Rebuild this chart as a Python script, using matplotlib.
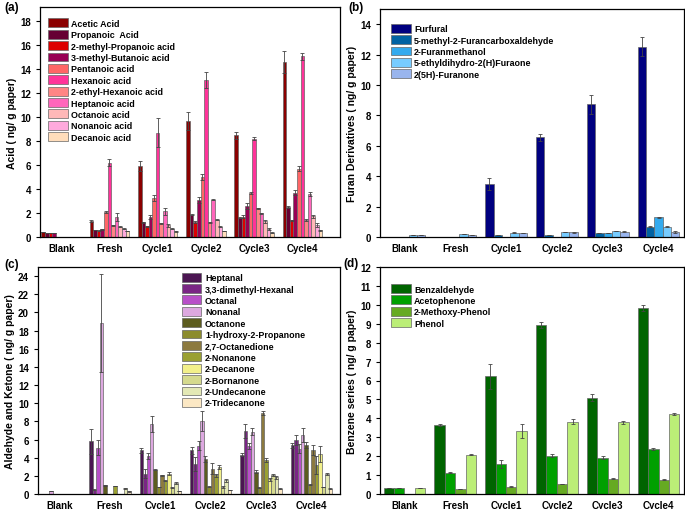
import numpy as np
import matplotlib
matplotlib.use('Agg')
import matplotlib.pyplot as plt

plt.rcParams['font.family'] = ['Liberation Sans', 'DejaVu Sans']
plt.rcParams['font.weight'] = 'bold'

groups = ["Blank", "Fresh", "Cycle1", "Cycle2", "Cycle3", "Cycle4"]

# (a) acids
acid_names = ["Acetic Acid", "Propanoic  Acid", "2-methyl-Propanoic acid",
              "3-methyl-Butanoic acid", "Pentanoic acid", "Hexanoic acid",
              "2-ethyl-Hexanoic acid", "Heptanoic acid", "Octanoic acid",
              "Nonanoic acid", "Decanoic acid"]
acid_vals = [
    [0.42, 1.33, 5.90, 9.70, 8.50, 14.60],
    [0.37, 0.58, 1.22, 1.86, 1.60, 2.50],
    [0.32, 0.53, 0.90, 1.25, 1.70, 1.38],
    [0.30, 0.64, 1.67, 3.10, 2.55, 3.70],
    [0.00, 2.08, 3.25, 5.00, 3.70, 5.70],
    [0.00, 6.20, 8.70, 13.10, 8.20, 15.10],
    [0.00, 0.97, 1.14, 1.22, 2.40, 1.42],
    [0.00, 1.67, 2.15, 3.10, 1.97, 3.58],
    [0.00, 0.86, 0.97, 1.45, 1.30, 1.72],
    [0.00, 0.70, 0.70, 0.87, 0.67, 1.00],
    [0.00, 0.50, 0.47, 0.50, 0.36, 0.55],
]
acid_err = [
    [0, 0.05, 0.42, 0.75, 0.30, 0.95],
    [0, 0.02, 0.05, 0.05, 0.05, 0.05],
    [0, 0.02, 0.05, 0.05, 0.10, 0.05],
    [0, 0.03, 0.15, 0.25, 0.25, 0.20],
    [0, 0.05, 0.25, 0.25, 0.08, 0.20],
    [0, 0.30, 1.20, 0.70, 0.12, 0.30],
    [0, 0.05, 0.05, 0.05, 0.05, 0.05],
    [0, 0.30, 0.30, 0.05, 0.05, 0.15],
    [0, 0.05, 0.15, 0.05, 0.10, 0.15],
    [0, 0.05, 0.05, 0.05, 0.05, 0.20],
    [0, 0.02, 0.02, 0.02, 0.05, 0.03],
]
acid_colors = ["#8B0000", "#660033", "#DD0000", "#990055", "#FF6666", "#FF3399",
               "#FF8585", "#FF66BB", "#FFB8B8", "#FFAADD", "#FFDDBB"]

# (b) furan derivatives
furan_names = ["Furfural", "5-methyl-2-Furancarboxaldehyde", "2-Furanmethanol",
               "5-ethyldihydro-2(H)Furaone", "2(5H)-Furanone"]
furan_vals = [
    [0.00, 0.00, 3.47, 6.55, 8.72, 12.53],
    [0.00, 0.00, 0.13, 0.15, 0.26, 0.69],
    [0.00, 0.00, 0.00, 0.00, 0.26, 1.30],
    [0.12, 0.20, 0.28, 0.34, 0.40, 0.69],
    [0.12, 0.14, 0.26, 0.30, 0.35, 0.33],
]
furan_err = [
    [0, 0, 0.38, 0.25, 0.60, 0.60],
    [0, 0, 0.01, 0.01, 0.02, 0.03],
    [0, 0, 0.00, 0.00, 0.02, 0.04],
    [0, 0.01, 0.02, 0.02, 0.02, 0.02],
    [0, 0.01, 0.02, 0.03, 0.05, 0.05],
]
furan_colors = ["#000080", "#0062A3", "#33AAEE", "#77CCFF", "#99B5EE"]

# (c) aldehyde and ketone
ak_names = ["Heptanal", "3,3-dimethyl-Hexanal", "Octanal", "Nonanal", "Octanone",
            "1-hydroxy-2-Propanone", "2,7-Octanedione", "2-Nonanone", "2-Decanone",
            "2-Bornanone", "2-Undecanone", "2-Tridecanone"]
ak_vals = [
    [0.00, 5.80, 4.80, 4.80, 4.35, 5.35],
    [0.00, 0.45, 2.25, 3.30, 6.95, 5.90],
    [0.00, 5.10, 4.20, 5.30, 5.30, 5.00],
    [0.35, 18.80, 7.70, 8.00, 6.85, 6.50],
    [0.00, 0.95, 2.65, 3.85, 2.45, 5.40],
    [0.00, 0.00, 0.75, 0.80, 0.70, 1.00],
    [0.00, 0.00, 2.05, 2.80, 8.90, 4.80],
    [0.00, 0.90, 1.45, 2.05, 3.75, 3.20],
    [0.00, 0.00, 2.25, 2.95, 1.60, 4.40],
    [0.00, 0.00, 0.70, 0.75, 2.10, 0.77],
    [0.00, 0.62, 1.25, 1.50, 1.85, 2.20],
    [0.00, 0.30, 0.35, 0.45, 0.60, 0.60],
]
ak_err = [
    [0, 1.40, 0.30, 0.35, 0.20, 0.25],
    [0, 0.05, 0.50, 0.80, 0.75, 0.55],
    [0, 0.80, 0.30, 0.50, 0.30, 0.50],
    [0, 5.40, 0.85, 1.10, 0.40, 0.75],
    [0, 0.05, 0.05, 0.30, 0.15, 0.30],
    [0, 0, 0.03, 0.03, 0.03, 0.05],
    [0, 0, 0.05, 0.60, 0.25, 0.55],
    [0, 0.03, 0.05, 0.15, 0.25, 0.95],
    [0, 0, 0.20, 0.25, 0.20, 0.90],
    [0, 0, 0.05, 0.10, 0.10, 0.05],
    [0, 0.05, 0.10, 0.15, 0.15, 0.15],
    [0, 0.03, 0.03, 0.03, 0.03, 0.05],
]
ak_colors = ["#4B1552", "#7A2585", "#B84FC8", "#DDA8E0", "#5C5C1F", "#8C8C2E",
             "#8C7A3F", "#9AA032", "#F2F08A", "#D5DA8E", "#E3E8B5", "#FCE8C4"]

# (d) benzene series
bz_names = ["Benzaldehyde", "Acetophenone", "2-Methoxy-Phenol", "Phenol"]
bz_vals = [
    [0.30, 3.65, 6.22, 8.95, 5.10, 9.82],
    [0.30, 1.13, 1.58, 2.03, 1.92, 2.38],
    [0.00, 0.28, 0.38, 0.52, 0.80, 0.75],
    [0.32, 2.08, 3.32, 3.82, 3.78, 4.23],
]
bz_err = [
    [0, 0.05, 0.65, 0.15, 0.17, 0.17],
    [0, 0.02, 0.22, 0.07, 0.08, 0.04],
    [0, 0.01, 0.02, 0.01, 0.03, 0.02],
    [0, 0.04, 0.38, 0.13, 0.10, 0.03],
]
bz_colors = ["#006400", "#00A000", "#66AA22", "#BBEE77"]


def grouped(ax, names, vals, errs, colors, gw=0.82):
    x = np.arange(len(groups))
    n = len(names)
    w = gw / n
    for i in range(n):
        pos = x - gw / 2 + w * (i + 0.5)
        ax.bar(pos, vals[i], w, color=colors[i], edgecolor="#666666",
               linewidth=0.5, label=names[i])
        ax.errorbar(pos, vals[i], yerr=errs[i], fmt="none", ecolor="#444444",
                    elinewidth=0.6, capsize=1.3, capthick=0.6)
    ax.set_xticks(x)
    ax.set_xticklabels(groups, fontsize=7, fontweight="bold")
    ax.tick_params(axis="x", length=0, pad=4)
    ax.tick_params(axis="y", labelsize=7, length=3, width=0.8)
    for s in ax.spines.values():
        s.set_linewidth(0.9)


def add_legend(ax, anchor):
    ax.legend(loc="upper left", bbox_to_anchor=anchor, frameon=False,
              fontsize=6.4, handlelength=2.2, handleheight=1.15,
              labelspacing=0.22, handletextpad=0.4, borderaxespad=0.5)


fig = plt.figure(figsize=(6.85, 5.1), dpi=100)
W, H = 685.0, 510.0


def make_ax(l, t, r, b):
    return fig.add_axes([l / W, 1 - b / H, (r - l) / W, (b - t) / H])


axa = make_ax(40, 8, 340, 238)
axb = make_ax(380, 10, 684, 238)
axc = make_ax(38, 268, 340, 495)
axd = make_ax(380, 268, 684, 495)

grouped(axa, acid_names, acid_vals, acid_err, acid_colors)
axa.set_xlim(-0.44, 5.78)
axa.set_ylim(0, 19.2)
axa.set_yticks(np.arange(0, 19, 2))
axa.set_ylabel("Acid ( ng/ g paper)", fontsize=7.5, fontweight="bold", labelpad=2)
add_legend(axa, (0.0, 0.985))

grouped(axb, furan_names, furan_vals, furan_err, furan_colors)
axb.set_xlim(-0.48, 5.5)
axb.set_ylim(0, 15)
axb.set_yticks(np.arange(0, 15, 2))
axb.set_ylabel("Furan Derivatives ( ng/ g paper)", fontsize=7.5,
               fontweight="bold", labelpad=2)
add_legend(axb, (0.01, 0.97))

grouped(axc, ak_names, ak_vals, ak_err, ak_colors)
axc.set_xlim(-0.43, 5.57)
axc.set_ylim(0, 25)
axc.set_yticks(np.arange(0, 25, 2))
axc.set_ylabel("Aldehyde and Ketone ( ng/ g paper)", fontsize=7.5,
               fontweight="bold", labelpad=2)
add_legend(axc, (0.45, 1.01))

grouped(axd, bz_names, bz_vals, bz_err, bz_colors)
axd.set_xlim(-0.48, 5.5)
axd.set_ylim(0, 12)
axd.set_yticks(np.arange(0, 13, 1))
axd.set_ylabel("Benzene series ( ng/ g paper)", fontsize=7.5,
               fontweight="bold", labelpad=2)
add_legend(axd, (0.01, 0.96))

for lab, px, py in [("(a)", 4, 2), ("(b)", 348, 2), ("(c)", 4, 259), ("(d)", 343, 258)]:
    fig.text(px / W, 1 - py / H, lab, fontsize=8.5, fontweight="bold",
             ha="left", va="top")

fig.savefig("out.png", dpi=100)
